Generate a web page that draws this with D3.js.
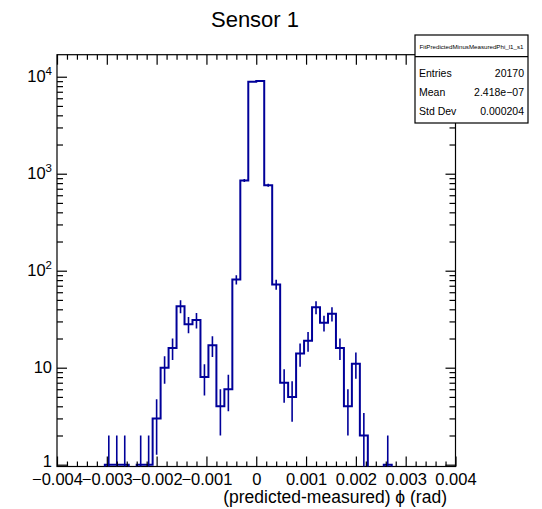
<!DOCTYPE html>
<html>
<head>
<meta charset="utf-8">
<script src="https://cdn.jsdelivr.net/npm/d3@7"></script>
<style>
  body { margin: 0; background: #fff; }
  svg { display: block; font-family: "Liberation Sans", Arial, Helvetica, sans-serif; }
</style>
</head>
<body>
<svg id="chart" width="542" height="509"></svg>
<script>
// histogram: 50 bins over [-0.004, 0.004]
const binRange = [-0.004, 0.004];
const counts = [
  0, 0, 0, 0, 0, 0, 1, 1, 1, 0,
  1, 1, 3, 10, 16, 43, 28, 31, 8, 17,
  4, 6, 81, 853, 8900, 9060, 760, 72, 7, 5,
  14, 19, 42, 29, 36, 16, 4, 11, 2, 0,
  0, 1, 0, 0, 0, 0, 0, 0, 0, 0
];
const xMajorTicks = [-0.004, -0.003, -0.002, -0.001, 0, 0.001, 0.002, 0.003, 0.004];
const yDecades = [1, 10, 100, 1000, 10000];
const yDecadeLabels = [["1", ""], ["10", ""], ["10", "2"], ["10", "3"], ["10", "4"]];
const statsName = "FitPredictedMinusMeasuredPhi_l1_s1";
const statsLabels = ["Entries", "Mean", "Std Dev"];
const statsValues = ["20170", "2.418e\u221207", "0.000204"];

const W = 542, H = 509;
const F = { left: 57, right: 455.5, top: 54.7, bottom: 466.5 };
const LINE = "#000099";

const svg = d3.select("#chart");

const x = d3.scaleLinear().domain(binRange).range([F.left, F.right]);
const y = d3.scaleLog().domain([0.958, 16870]).range([F.bottom, F.top]);

const nb = counts.length;
const bw = (binRange[1] - binRange[0]) / nb;
const edge = i => binRange[0] + i * bw;

svg.append("defs").append("clipPath").attr("id", "frameClip")
  .append("rect")
  .attr("x", F.left).attr("y", F.top)
  .attr("width", F.right - F.left).attr("height", F.bottom - F.top);

// title
svg.append("text")
  .attr("x", 255).attr("y", 27)
  .attr("text-anchor", "middle")
  .attr("font-size", 22)
  .text("Sensor 1");

// frame
svg.append("rect")
  .attr("x", F.left).attr("y", F.top)
  .attr("width", F.right - F.left).attr("height", F.bottom - F.top)
  .attr("fill", "none").attr("stroke", "#000").attr("stroke-width", 1.2);

// --- histogram step line
const yv = c => c > 0 ? y(c) : F.bottom + 2;
let i0 = counts.findIndex(c => c > 0);
let i1 = nb - 1 - counts.slice().reverse().findIndex(c => c > 0);
const pts = [[x(edge(i0)), F.bottom + 2]];
for (let i = i0; i <= i1; i++) {
  pts.push([x(edge(i)), yv(counts[i])]);
  pts.push([x(edge(i + 1)), yv(counts[i])]);
}
pts.push([x(edge(i1 + 1)), F.bottom + 2]);

const plot = svg.append("g").attr("clip-path", "url(#frameClip)");
plot.append("path")
  .attr("d", d3.line()(pts))
  .attr("fill", "none")
  .attr("stroke", LINE)
  .attr("stroke-width", 2)
  .attr("stroke-linejoin", "miter");

// error bars (sqrt N)
plot.selectAll("line.err")
  .data(counts.map((c, i) => ({ c, i })).filter(d => d.c > 0))
  .join("line")
  .attr("class", "err")
  .attr("x1", d => x(edge(d.i) + bw / 2))
  .attr("x2", d => x(edge(d.i) + bw / 2))
  .attr("y1", d => {
    const lo = d.c - Math.sqrt(d.c);
    return lo > 0.958 ? y(lo) : F.bottom + 2;
  })
  .attr("y2", d => y(d.c + Math.sqrt(d.c)))
  .attr("stroke", LINE)
  .attr("stroke-width", 1.6);

// --- x axes (bottom + top), ticks inside
const xMinor = d3.range(-20, 21).map(i => i * 0.0002).filter(v => Math.abs(Math.round(v / 0.001) * 0.001 - v) > 1e-9);
const fmtX = d => d === 0 ? "0" : d3.format(".3f")(d);

function styleAxis(g) {
  g.select(".domain").remove();
  g.selectAll(".tick line").attr("stroke", "#000").attr("stroke-width", 1.2);
}

svg.append("g").attr("transform", `translate(0,${F.bottom})`)
  .call(d3.axisBottom(x).tickValues(xMinor).tickSize(-5).tickFormat(""))
  .call(styleAxis);
svg.append("g").attr("transform", `translate(0,${F.bottom})`)
  .call(d3.axisBottom(x).tickValues(xMajorTicks).tickSize(-10).tickPadding(7).tickFormat(fmtX))
  .call(styleAxis)
  .call(g => g.selectAll("text").attr("font-size", 16.5).attr("fill", "#000")
    .attr("font-family", "'Liberation Sans', Arial, sans-serif"));
svg.append("g").attr("transform", `translate(0,${F.top})`)
  .call(d3.axisTop(x).tickValues(xMinor).tickSize(-5).tickFormat(""))
  .call(styleAxis);
svg.append("g").attr("transform", `translate(0,${F.top})`)
  .call(d3.axisTop(x).tickValues(xMajorTicks).tickSize(-10).tickFormat(""))
  .call(styleAxis);

// --- y axes (left + right), log ticks inside
const yMinor = [];
yDecades.forEach(d => { for (let k = 2; k <= 9; k++) if (d * k < 16870) yMinor.push(d * k); });

svg.append("g").attr("transform", `translate(${F.left},0)`)
  .call(d3.axisLeft(y).tickValues(yMinor).tickSize(-6).tickFormat(""))
  .call(styleAxis);
svg.append("g").attr("transform", `translate(${F.left},0)`)
  .call(d3.axisLeft(y).tickValues(yDecades).tickSize(-10).tickFormat(""))
  .call(styleAxis);
svg.append("g").attr("transform", `translate(${F.right},0)`)
  .call(d3.axisRight(y).tickValues(yMinor).tickSize(-6).tickFormat(""))
  .call(styleAxis);
svg.append("g").attr("transform", `translate(${F.right},0)`)
  .call(d3.axisRight(y).tickValues(yDecades).tickSize(-10).tickFormat(""))
  .call(styleAxis);

// y labels with superscripts
const yl = svg.append("g").attr("font-size", 16.5).attr("text-anchor", "end");
yDecades.forEach((d, i) => {
  const [base, sup] = yDecadeLabels[i];
  const t = yl.append("text")
    .attr("x", 52)
    .attr("y", Math.min(y(d) + 5.5, 467));
  t.append("tspan").text(base);
  if (sup) {
    t.append("tspan").attr("font-size", 11.5).attr("dy", -7).text(sup);
  }
});

// x title
svg.append("text")
  .attr("x", 447).attr("y", 503)
  .attr("text-anchor", "end")
  .attr("font-size", 17.5)
  .text("(predicted-measured) \u03D5 (rad)");

// --- stats box
const sb = { x: 415, y: 35, w: 113, h: 88, div: 56.7 };
const stats = svg.append("g");
stats.append("rect")
  .attr("x", sb.x).attr("y", sb.y).attr("width", sb.w).attr("height", sb.h)
  .attr("fill", "#fff").attr("stroke", "#000").attr("stroke-width", 1.2);
stats.append("line")
  .attr("x1", sb.x).attr("x2", sb.x + sb.w).attr("y1", sb.div).attr("y2", sb.div)
  .attr("stroke", "#000").attr("stroke-width", 1.2);
stats.append("text")
  .attr("x", sb.x + sb.w / 2).attr("y", 48.5)
  .attr("text-anchor", "middle")
  .attr("font-size", 5.6)
  .attr("textLength", 104).attr("lengthAdjust", "spacingAndGlyphs")
  .text(statsName);
const rowY = [73.3, 91.7, 111];
statsLabels.forEach((lab, i) => {
  stats.append("text").attr("x", 419).attr("y", rowY[i] + 3.8)
    .attr("font-size", 10.5).text(lab);
  stats.append("text").attr("x", 524).attr("y", rowY[i] + 3.8)
    .attr("font-size", 10.5).attr("text-anchor", "end").text(statsValues[i]);
});
</script>
</body>
</html>
